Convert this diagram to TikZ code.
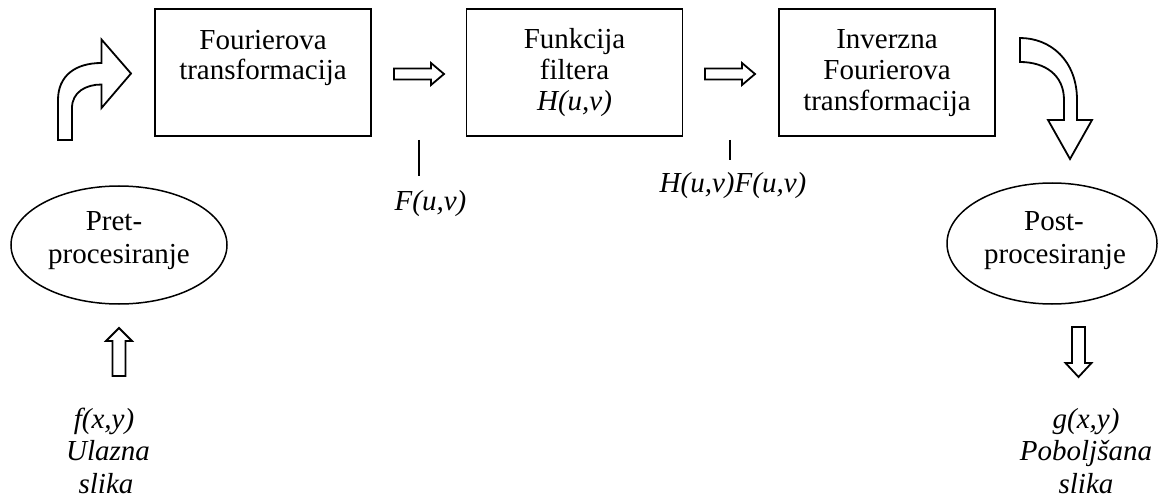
\documentclass[tikz,border=0pt]{standalone}
\usepackage{fontspec}
\setmainfont{Liberation Serif}
\usetikzlibrary{shapes.geometric}
\begin{document}
\begin{tikzpicture}[x=1pt,y=-1pt,
  box/.style={draw, line width=1.8pt, minimum width=216pt, minimum height=127pt, inner sep=0pt},
  oval/.style={draw, ellipse, line width=1.5pt, inner sep=0pt},
  txt/.style={anchor=base, inner sep=0pt, font=\fontsize{29}{31}\selectfont},
  itxt/.style={anchor=base, inner sep=0pt, font=\fontsize{29}{31}\selectfont\itshape},
  blockarrow/.style={draw, line width=1.8pt, line join=miter, fill=white},
  tick/.style={draw, line width=1.6pt}
]
\useasboundingbox (0,0) rectangle (1158,497);

% boxes
\node[box] (ft) at (263,72.5) {};
\node[box] (hf) at (574.5,72.5) {};
\node[box] (ift) at (887,72.5) {};

\node[txt] (ft1) at (263,49.5) {Fourierova};
\node[txt] (ft2) at (263,80) {transformacija};

\node[txt] (hf1) at (574.5,49) {Funkcija};
\node[txt] (hf2) at (574.5,80) {filtera};
\node[itxt] (hf3) at (574.5,111) {H(u,v)};

\node[txt] (ift1) at (887,49) {Inverzna};
\node[txt] (ift2) at (887,80) {Fourierova};
\node[txt] (ift3) at (887,111) {transformacija};

% ellipses
\node[oval, minimum width=216pt, minimum height=118pt] (pre) at (119,245) {};
\node[txt] (pre1) at (114,230) {Pret-};
\node[txt] (pre2) at (119,263) {procesiranje};

\node[oval, minimum width=210pt, minimum height=121pt] (post) at (1052,243.5) {};
\node[txt] (post1) at (1054,230) {Post-};
\node[txt] (post2) at (1055,263) {procesiranje};

% straight block arrows
\draw[blockarrow] (394,68.5) -- (431,68.5) -- (431,63) -- (444,74) -- (431,85) -- (431,79.5) -- (394,79.5) -- cycle;
\draw[blockarrow] (705,68.5) -- (742,68.5) -- (742,63) -- (755,74) -- (742,85) -- (742,79.5) -- (705,79.5) -- cycle;

% up arrow into pre-processing
\draw[blockarrow] (112.5,376) -- (112.5,341) -- (106,341) -- (119,328) -- (132,341) -- (125.5,341) -- (125.5,376) -- cycle;
% down arrow out of post-processing
\draw[blockarrow] (1072,327) -- (1072,363) -- (1065.5,363) -- (1078.5,377) -- (1091.5,363) -- (1085,363) -- (1085,327) -- cycle;

% bent arrow up-right (left side)
\draw[blockarrow] (58,140) -- (58,100) .. controls (58,76) and (75,63) .. (101.5,63)
  -- (101.5,39.5) -- (131,73.5) -- (101.5,108) -- (101.5,84.5)
  .. controls (86,84.5) and (72,92) .. (72,108) -- (72,140) -- cycle;

% bent arrow right-down (right side)
\draw[blockarrow] (1020,38) .. controls (1050,38) and (1077,60) .. (1077,100)
  -- (1077,120) -- (1092,120) -- (1070,159) -- (1048,120) -- (1064,120) -- (1064,100)
  .. controls (1064,75) and (1045,62) .. (1020,62) -- cycle;

% callout lines and labels
\coordinate (c1a) at (419,140);
\coordinate (c1b) at (419,176);
\draw[tick] (c1a) -- (c1b);
\node[itxt] (lf) at (430.5,210) {F(u,v)};

\coordinate (c2a) at (730,140);
\coordinate (c2b) at (730,160);
\draw[tick] (c2a) -- (c2b);
\node[itxt] (lhf) at (733,193) {H(u,v)F(u,v)};

% input / output labels
\node[itxt] (in1) at (104,428) {f(x,y)};
\node[itxt] (in2) at (108,460) {Ulazna};
\node[itxt] (in3) at (106,493) {slika};

\node[itxt] (out1) at (1086,428) {g(x,y)};
\node[itxt] (out2) at (1086,460) {Poboljšana};
\node[itxt] (out3) at (1086,493) {slika};
\end{tikzpicture}
\end{document}
